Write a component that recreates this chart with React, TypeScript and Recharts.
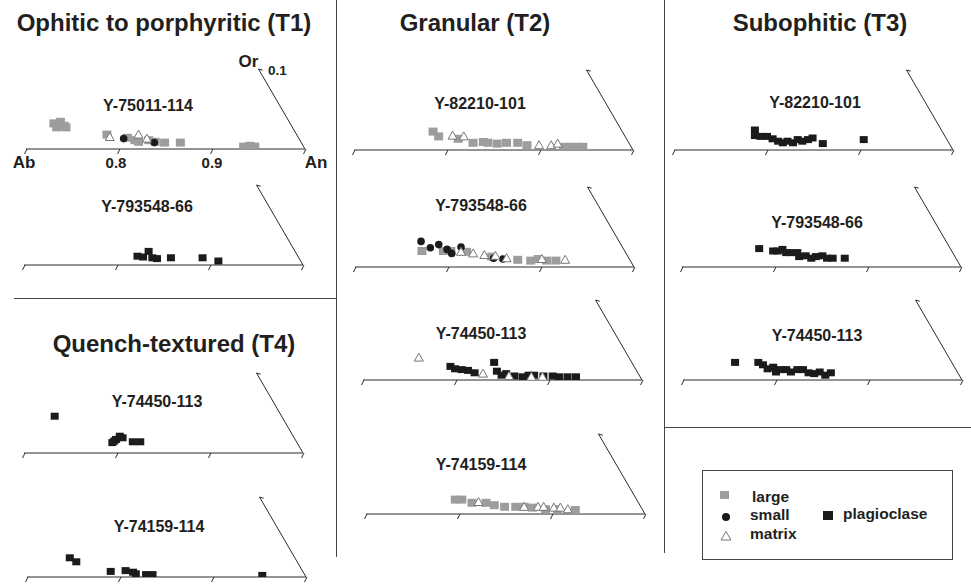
import React from "react";
import { ScatterChart, Scatter, XAxis, YAxis, ReferenceLine, ReferenceDot } from "recharts";

// ─── Axis (An fraction, with Or on the slanted side) ────────────────────────
const AN_TICKS = [0.7, 0.8, 0.9, 1.0];
const AN_TICK_LABELS = ["Ab", "0.8", "0.9", "An"];

const TITLES = [
  "Ophitic to porphyritic (T1)",
  "Granular (T2)",
  "Subophitic (T3)",
  "Quench-textured (T4)",
];

// [An, Or]
// T1 · Y-75011-114
const t1aLarge = [
  [0.730, 0.032], [0.737, 0.034], [0.741, 0.029], [0.733, 0.027], [0.743, 0.027],
  [0.787, 0.018], [0.809, 0.014], [0.817, 0.011], [0.821, 0.009], [0.832, 0.011],
  [0.839, 0.009], [0.849, 0.008], [0.866, 0.008], [0.934, 0.003], [0.941, 0.004],
  [0.946, 0.003],
];
const t1aSmall = [[0.805, 0.013], [0.838, 0.008]];
const t1aMatrix = [[0.790, 0.015], [0.821, 0.018], [0.830, 0.013]];

// T1 · Y-793548-66
const t1bPlag = [
  [0.822, 0.011], [0.828, 0.010], [0.834, 0.017], [0.838, 0.009], [0.843, 0.008],
  [0.858, 0.009], [0.892, 0.009], [0.909, 0.005],
];

// T4 · Y-74450-113
const t4aPlag = [
  [0.733, 0.046], [0.795, 0.013], [0.797, 0.015], [0.799, 0.017], [0.803, 0.021],
  [0.806, 0.019], [0.817, 0.014], [0.825, 0.014],
];

// T4 · Y-74159-114
const t4bPlag = [
  [0.746, 0.024], [0.753, 0.019], [0.790, 0.007], [0.806, 0.008], [0.814, 0.006],
  [0.817, 0.004], [0.828, 0.003], [0.835, 0.003], [0.953, 0.002],
];

// T2 · Y-82210-101
const t2aLarge = [
  [0.785, 0.023], [0.791, 0.017], [0.812, 0.014], [0.828, 0.009], [0.839, 0.010],
  [0.844, 0.009], [0.854, 0.008], [0.864, 0.009], [0.876, 0.009], [0.886, 0.006],
  [0.925, 0.004], [0.932, 0.004], [0.939, 0.004], [0.946, 0.004],
];
const t2aMatrix = [[0.806, 0.018], [0.818, 0.017], [0.899, 0.006], [0.912, 0.006], [0.919, 0.008]];

// T2 · Y-793548-66
const t2bLarge = [
  [0.772, 0.020], [0.795, 0.020], [0.803, 0.020], [0.820, 0.019], [0.847, 0.013],
  [0.875, 0.009], [0.889, 0.008], [0.897, 0.010], [0.906, 0.008], [0.916, 0.008],
];
const t2bSmall = [
  [0.771, 0.032], [0.781, 0.024], [0.790, 0.028], [0.799, 0.022], [0.804, 0.017],
  [0.814, 0.025], [0.849, 0.011], [0.859, 0.010],
];
const t2bMatrix = [
  [0.814, 0.019], [0.827, 0.017], [0.839, 0.015], [0.851, 0.014], [0.863, 0.011],
  [0.901, 0.010], [0.926, 0.009],
];

// T2 · Y-74450-113
const t2cPlag = [
  [0.794, 0.017], [0.799, 0.014], [0.806, 0.013], [0.813, 0.012], [0.820, 0.009],
  [0.841, 0.022], [0.844, 0.011], [0.849, 0.006], [0.854, 0.008], [0.863, 0.005],
  [0.872, 0.004], [0.878, 0.006], [0.884, 0.006], [0.894, 0.005], [0.904, 0.005],
  [0.911, 0.004], [0.920, 0.004], [0.929, 0.004],
];
const t2cMatrix = [[0.760, 0.028], [0.829, 0.008], [0.857, 0.005], [0.881, 0.004], [0.893, 0.004]];

// T2 · Y-74159-114
const t2dLarge = [
  [0.796, 0.018], [0.803, 0.018], [0.814, 0.014], [0.829, 0.014], [0.838, 0.011],
  [0.849, 0.009], [0.861, 0.009], [0.870, 0.009], [0.879, 0.008], [0.893, 0.006],
  [0.906, 0.006], [0.925, 0.005],
];
const t2dMatrix = [
  [0.821, 0.015], [0.870, 0.009], [0.885, 0.009], [0.891, 0.009], [0.902, 0.008],
  [0.909, 0.008], [0.917, 0.006],
];

// T3 · Y-82210-101
const t3aPlag = [
  [0.787, 0.025], [0.787, 0.018], [0.793, 0.017], [0.800, 0.017], [0.806, 0.014],
  [0.812, 0.011], [0.817, 0.009], [0.822, 0.011], [0.828, 0.009], [0.833, 0.013],
  [0.838, 0.011], [0.844, 0.013], [0.849, 0.015], [0.860, 0.008], [0.904, 0.013],
];

// T3 · Y-793548-66
const t3bPlag = [
  [0.783, 0.023], [0.798, 0.020], [0.803, 0.020], [0.808, 0.022], [0.812, 0.018],
  [0.817, 0.018], [0.824, 0.018], [0.826, 0.013], [0.833, 0.014], [0.839, 0.011],
  [0.844, 0.013], [0.851, 0.014], [0.856, 0.011], [0.862, 0.011], [0.875, 0.011],
];

// T3 · Y-74450-113
const t3cPlag = [
  [0.756, 0.022], [0.781, 0.022], [0.786, 0.019], [0.791, 0.014], [0.797, 0.016],
  [0.800, 0.010], [0.805, 0.013], [0.811, 0.013], [0.816, 0.010], [0.823, 0.013],
  [0.829, 0.013], [0.835, 0.009], [0.841, 0.008], [0.847, 0.010], [0.853, 0.006],
  [0.859, 0.009],
];

// ─── Styling / layout ───────────────────────────────────────────────────────
const FONT = '"Liberation Sans", Arial, Helvetica, sans-serif';
const INK = "#231f20";
const LINE = "#2a2a2a";
const GRAY = "#9d9d9d";
const BLACK = "#1b1b1b";

const PW = 279; // plot width (0.7 → 1.0)
const PH = 80; // plot height (Or 0 → 0.1)
const ML = 18;
const MR = 34;
const MT = 26;
const XH = 26;

const pts = (a: number[][]) => a.map(([an, or]) => ({ an, or }));

type PanelDef = {
  name: string;
  ax: number; // page x of the Ab end
  ay: number; // page y of the baseline
  lx: number;
  ly: number;
  labelled?: boolean;
  large?: number[][];
  small?: number[][];
  matrix?: number[][];
  plag?: number[][];
};

const PANELS: PanelDef[] = [
  { name: "Y-75011-114", ax: 26, ay: 149, lx: 122, ly: 38, labelled: true, large: t1aLarge, small: t1aSmall, matrix: t1aMatrix },
  { name: "Y-793548-66", ax: 24, ay: 265, lx: 123, ly: 53, plag: t1bPlag },
  { name: "Y-74450-113", ax: 24, ay: 453, lx: 133, ly: 46, plag: t4aPlag },
  { name: "Y-74159-114", ax: 27, ay: 577, lx: 132, ly: 45, plag: t4bPlag },
  { name: "Y-82210-101", ax: 354, ay: 150, lx: 126, ly: 41, large: t2aLarge, matrix: t2aMatrix },
  { name: "Y-793548-66", ax: 355, ay: 267, lx: 126, ly: 56, large: t2bLarge, small: t2bSmall, matrix: t2bMatrix },
  { name: "Y-74450-113", ax: 363, ay: 380, lx: 118, ly: 41, plag: t2cPlag, matrix: t2cMatrix },
  { name: "Y-74159-114", ax: 366, ay: 514, lx: 115, ly: 44, large: t2dLarge, matrix: t2dMatrix },
  { name: "Y-82210-101", ax: 674, ay: 150, lx: 141, ly: 42, plag: t3aPlag },
  { name: "Y-793548-66", ax: 682, ay: 267, lx: 135, ly: 39, plag: t3bPlag },
  { name: "Y-74450-113", ax: 683, ay: 380, lx: 134, ly: 39, plag: t3cPlag },
];

const TITLE_POS = [
  { cx: 164, base: 31 },
  { cx: 475, base: 31 },
  { cx: 820, base: 31 },
  { cx: 174, base: 352 },
];

// ─── Markers ────────────────────────────────────────────────────────────────
function LargeMark({ cx, cy }: any) {
  if (cx == null || cy == null) return null;
  return <rect x={cx - 4.5} y={cy - 4} width={9} height={8} fill={GRAY} />;
}
function PlagMark({ cx, cy }: any) {
  if (cx == null || cy == null) return null;
  return <rect x={cx - 4} y={cy - 3.5} width={8} height={7} fill={BLACK} />;
}
function SmallMark({ cx, cy }: any) {
  if (cx == null || cy == null) return null;
  return <circle cx={cx} cy={cy} r={3.8} fill={BLACK} />;
}
function MatrixMark({ cx, cy }: any) {
  if (cx == null || cy == null) return null;
  const p = `${cx},${cy - 4.5} ${cx + 4.5},${cy + 3.5} ${cx - 4.5},${cy + 3.5}`;
  return <polygon points={p} fill="#fff" stroke="#777" strokeWidth={1} />;
}

const TICK_DX = [-2, -3, 0, 11];

function AnTick({ x, y, index, labelled }: any) {
  return (
    <g>
      <line x1={x + 1} y1={y} x2={x - 1.5} y2={y + 5} stroke={LINE} strokeWidth={1} />
      {labelled && (
        <text
          x={x + TICK_DX[index]}
          y={y + 19}
          textAnchor="middle"
          fontFamily={FONT}
          fontWeight="bold"
          fontSize={index === 0 || index === 3 ? 17 : 15}
          fill={INK}
        >
          {AN_TICK_LABELS[index]}
        </text>
      )}
    </g>
  );
}

function OrLabel({ viewBox }: any) {
  if (!viewBox) return null;
  const { x, y } = viewBox;
  return (
    <g fontFamily={FONT} fontWeight="bold" fill={INK}>
      <text x={x - 10} y={y - 2} textAnchor="middle" fontSize={17}>Or</text>
      <text x={x + 19} y={y + 6} textAnchor="middle" fontSize={13.5}>0.1</text>
    </g>
  );
}

function Panel({ p }: { p: PanelDef }) {
  return (
    <div style={{ position: "absolute", left: p.ax - ML, top: p.ay - PH - MT }}>
      <ScatterChart
        width={PW + ML + MR}
        height={MT + PH + XH}
        margin={{ top: MT, right: MR, bottom: 0, left: ML }}
      >
        <XAxis
          type="number"
          dataKey="an"
          domain={[0.7, 1.0]}
          ticks={AN_TICKS}
          interval={0}
          allowDataOverflow
          height={XH}
          stroke={LINE}
          tickLine={false}
          tickSize={0}
          tickMargin={0}
          tick={(props: any) => <AnTick {...props} labelled={p.labelled} />}
        />
        <YAxis type="number" dataKey="or" domain={[0, 0.1]} allowDataOverflow hide />
        <ReferenceLine segment={[{ x: 1.0, y: 0 }, { x: 0.95, y: 0.1 }]} stroke={LINE} strokeWidth={1} ifOverflow="visible" />
        <ReferenceLine segment={[{ x: 0.95, y: 0.1 }, { x: 0.9545, y: 0.0985 }]} stroke={LINE} strokeWidth={1} ifOverflow="visible" />
        {p.labelled && (
          <ReferenceDot x={0.95} y={0.1} r={0} fill="none" stroke="none" ifOverflow="visible" label={(lp: any) => <OrLabel {...lp} />} />
        )}
        {p.plag && <Scatter data={pts(p.plag)} shape={PlagMark} isAnimationActive={false} />}
        {p.large && <Scatter data={pts(p.large)} shape={LargeMark} isAnimationActive={false} />}
        {p.small && <Scatter data={pts(p.small)} shape={SmallMark} isAnimationActive={false} />}
        {p.matrix && <Scatter data={pts(p.matrix)} shape={MatrixMark} isAnimationActive={false} />}
      </ScatterChart>
      <div
        style={{
          position: "absolute",
          left: ML + p.lx,
          top: MT + PH - p.ly - 13.5,
          transform: "translateX(-50%)",
          whiteSpace: "nowrap",
          fontFamily: FONT,
          fontWeight: "bold",
          fontSize: 16,
          lineHeight: "16px",
          color: INK,
        }}
      >
        {p.name}
      </div>
    </div>
  );
}

function LegendBox() {
  const t = { fontFamily: FONT, fontWeight: "bold", fontSize: 15.5, fill: INK } as any;
  return (
    <svg width={252} height={91} style={{ position: "absolute", left: 702, top: 470 }}>
      <rect x={0.5} y={0.5} width={250} height={89} fill="#fff" stroke="#444" strokeWidth={1} />
      <rect x={18} y={21} width={9} height={8} fill={GRAY} />
      <text x={50} y={32} {...t}>large</text>
      <circle cx={24} cy={47} r={4} fill={BLACK} />
      <text x={48} y={50} {...t}>small</text>
      <polygon points="24,61.5 29,70 19,70" fill="#fff" stroke="#777" strokeWidth={1} />
      <text x={48} y={69} {...t}>matrix</text>
      <rect x={121} y={41} width={10} height={9} fill={BLACK} />
      <text x={141} y={49} {...t}>plagioclase</text>
    </svg>
  );
}

export default function App() {
  return (
    <div
      style={{
        position: "absolute",
        left: 0,
        top: 0,
        width: 971,
        height: 585,
        overflow: "hidden",
        background: "#fff",
      }}
    >
      {TITLES.map((title, i) => (
        <div
          key={title}
          style={{
            position: "absolute",
            left: TITLE_POS[i].cx,
            top: TITLE_POS[i].base - 20.3,
            transform: "translateX(-50%)",
            whiteSpace: "nowrap",
            fontFamily: FONT,
            fontWeight: "bold",
            fontSize: 24,
            lineHeight: "24px",
            color: INK,
          }}
        >
          {title}
        </div>
      ))}

      {/* frame lines between the texture groups */}
      <div style={{ position: "absolute", left: 336, top: 0, width: 1, height: 557, background: "#444" }} />
      <div style={{ position: "absolute", left: 664, top: 0, width: 1, height: 553, background: "#444" }} />
      <div style={{ position: "absolute", left: 14, top: 298, width: 322, height: 1, background: "#444" }} />
      <div style={{ position: "absolute", left: 664, top: 427, width: 307, height: 1, background: "#444" }} />

      {PANELS.map((p, i) => (
        <Panel key={i} p={p} />
      ))}

      <LegendBox />
    </div>
  );
}
